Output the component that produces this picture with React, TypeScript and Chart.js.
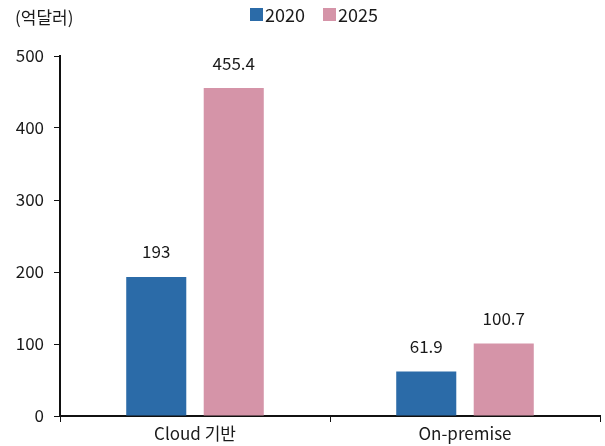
import React, { useEffect, useRef } from "react";
import { Chart, registerables } from "chart.js";

Chart.register(...registerables);

const categories = ["Cloud 기반", "On-premise"];
const seriesNames = ["2020", "2025"];
const values2020 = [193, 61.9];
const values2025 = [455.4, 100.7];
const valueLabels2020 = ["193", "61.9"];
const valueLabels2025 = ["455.4", "100.7"];
const yTicks = [0, 100, 200, 300, 400, 500];
const unitLabel = "(억달러)";

const BLUE = "#2b6ba8";
const PINK = "#d594a8";
const FONT = "'Noto Sans CJK KR', 'Noto Sans', sans-serif";

export default function App() {
  const ref = useRef<HTMLCanvasElement>(null);
  useEffect(() => {
    document.body.style.margin = "0";
    const labelsPlugin = {
      id: "labelsPlugin",
      afterDatasetsDraw(chart: any) {
        const ctx = chart.ctx;
        ctx.save();
        ctx.font = `17px ${FONT}`;
        ctx.fillStyle = "#1a1a1a";
        ctx.textAlign = "center";
        ctx.textBaseline = "middle";
        const texts = [valueLabels2020, valueLabels2025];
        chart.data.datasets.forEach((ds: any, i: number) => {
          const meta = chart.getDatasetMeta(i);
          meta.data.forEach((bar: any, j: number) => {
            ctx.fillText(texts[i][j], bar.x, bar.y - 25);
          });
        });
        ctx.textAlign = "left";
        ctx.fillText(unitLabel, 15, 18);
        const colors = [BLUE, PINK];
        const xs = [250, 323];
        seriesNames.forEach((n, i) => {
          ctx.fillStyle = colors[i];
          ctx.fillRect(xs[i], 8, 13, 13);
          ctx.fillStyle = "#1a1a1a";
          ctx.font = `18px ${FONT}`;
          ctx.fillText(n, xs[i] + 15, 15);
        });
        ctx.restore();
      },
    };
    const chart = new Chart(ref.current!, {
      type: "bar",
      data: {
        labels: categories,
        datasets: [
          { label: seriesNames[0], data: values2020, backgroundColor: BLUE, categoryPercentage: 0.574, barPercentage: 0.775 },
          { label: seriesNames[1], data: values2025, backgroundColor: PINK, categoryPercentage: 0.574, barPercentage: 0.775 },
        ],
      },
      options: {
        responsive: false,
        animation: false,
        layout: { padding: { top: 56, right: 5, left: 0, bottom: 0 } },
        plugins: { legend: { display: false }, tooltip: { enabled: false } },
        scales: {
          x: {
            grid: { display: true, drawOnChartArea: false, tickLength: 6, color: "#111", offset: true },
            border: { display: true, color: "#111", width: 2 },
            ticks: { font: { size: 17, family: FONT }, color: "#1a1a1a", padding: 1 },
            afterFit(scale: any) { scale.height = 30; },
          },
          y: {
            min: 0,
            max: 500,
            afterBuildTicks(scale: any) { scale.ticks = yTicks.map((v) => ({ value: v })); },
            grid: { display: true, drawOnChartArea: false, tickLength: 6, color: "#111" },
            border: { display: true, color: "#111", width: 2 },
            ticks: { font: { size: 17, family: FONT }, color: "#1a1a1a", padding: 10 },
            afterFit(scale: any) { scale.width = 60; },
          },
        },
      },
      plugins: [labelsPlugin],
    });
    return () => chart.destroy();
  }, []);
  return <canvas ref={ref} width={605} height={446} style={{ display: "block" }} />;
}
